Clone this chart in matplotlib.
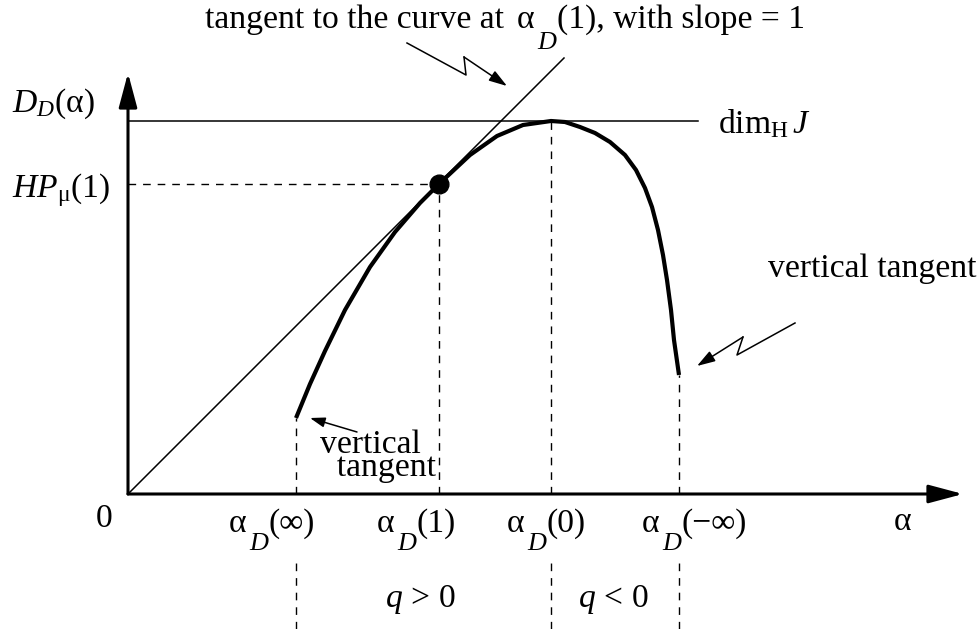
import matplotlib
matplotlib.use("Agg")
import matplotlib.pyplot as plt

plt.rcParams['font.family'] = ['Liberation Serif', 'DejaVu Serif']
plt.rcParams['mathtext.fontset'] = 'custom'
plt.rcParams['mathtext.rm'] = 'Liberation Serif'
plt.rcParams['mathtext.it'] = 'Liberation Serif:italic'
plt.rcParams['mathtext.bf'] = 'Liberation Serif:bold'
plt.rcParams['mathtext.fallback'] = 'stix'

# ---- data (schematic units) ----
alpha_inf, alpha_one, alpha_zero, alpha_minf = 168, 311, 423, 551
dim_H = 373          # maximum of the spectrum (dim_H J)
hp_mu = 310          # HP_mu(1) value at alpha_D(1)
curve_x = [168, 182, 197, 217, 242, 267, 292, 311, 342, 369, 395, 423,
           437, 452, 467, 482, 497, 508, 517, 524, 530, 535, 539, 543, 546, 551]
curve_y = [76, 110, 143, 184, 227, 262, 291, 310, 339, 358, 369, 373,
           372, 367, 361, 352, 339, 324, 306, 287, 264, 239, 214, 184, 154, 119]
curve_end_y_left = curve_y[0]
curve_end_y_right = curve_y[-1]
tangent_x = [0, 436]
tangent_y = [0, 436]
x_axis_end = 835
y_axis_end = 421
hline_end = 570
lower_dash_top, lower_dash_bot = -66, -135
tick_args = ['(∞)', '(1)', '(0)', '(−∞)']
tick_label_x = [101, 249, 379, 514]

FS = 24.2
SUB = 0.78
fig = plt.figure(figsize=(9.8, 6.29), dpi=100)
ax = fig.add_axes([0, 0, 1, 1])
ax.set_xlim(-128, 852)
ax.set_ylim(-135, 494)
ax.axis('off')
renderer = fig.canvas.get_renderer()


def rich(x, y, pieces):
    """Place text pieces one after another; 1 data unit == 1 pixel."""
    cx = x
    for s, size, style, dy, gap in pieces:
        cx += gap
        t = ax.text(cx, y + dy, s, fontsize=size, fontstyle=style,
                    ha='left', va='baseline')
        cx += t.get_window_extent(renderer=renderer).width


def alpha_d(x, y, arg, drop=18):
    rich(x, y, [('α', FS, 'normal', 0, 0),
                ('D', FS * SUB, 'italic', -drop, 3),
                (arg, FS, 'normal', 0, 0)])


# axes with arrows
ax.annotate('', xy=(x_axis_end, 0), xytext=(0, 0),
            arrowprops=dict(arrowstyle='-|>,head_length=21,head_width=5.6', lw=2.2,
                            color='k', shrinkA=0, shrinkB=0, mutation_scale=1))
ax.annotate('', xy=(0, y_axis_end), xytext=(0, 0),
            arrowprops=dict(arrowstyle='-|>,head_length=21,head_width=5.6', lw=2.2,
                            color='k', shrinkA=0, shrinkB=0, mutation_scale=1))

# horizontal line at dim_H J
ax.plot([0, hline_end], [dim_H, dim_H], color='k', lw=1.1)
# tangent line with slope 1
ax.plot(tangent_x, tangent_y, color='k', lw=1.1)

dash = dict(color='k', lw=1.0, dashes=(5.5, 5))
ax.plot([0, alpha_one], [hp_mu, hp_mu], **dash)
ax.plot([alpha_inf, alpha_inf], [0, curve_end_y_left], **dash)
ax.plot([alpha_one, alpha_one], [0, hp_mu], **dash)
ax.plot([alpha_zero, alpha_zero], [0, dim_H], **dash)
ax.plot([alpha_minf, alpha_minf], [0, curve_end_y_right], **dash)
for xv in (alpha_inf, alpha_zero, alpha_minf):
    ax.plot([xv, xv], [lower_dash_bot, lower_dash_top], **dash)

# the curve
ax.plot(curve_x, curve_y, color='k', lw=3.0, solid_capstyle='butt', solid_joinstyle='round')
ax.plot([alpha_one], [hp_mu], 'o', color='k', markersize=13.5)

# texts
rich(77, 466, [('tangent to the curve at', FS, 'normal', 0, 0)])
rich(389, 466, [('α', FS, 'normal', 0, 0),
                ('D', FS * SUB, 'italic', -21, 3),
                ('(1), with slope = 1', FS, 'normal', 0, 0)])
ax.text(590, 361, r'$\mathrm{dim}_{\mathrm{H}}\,J$', fontsize=FS, ha='left', va='baseline')
ax.text(-116, 382, r'$D_D(\mathrm{\alpha})$', fontsize=FS, ha='left', va='baseline')
ax.text(-116, 297, r'$HP_{\mathrm{\mu}}(1)$', fontsize=FS, ha='left', va='baseline')
ax.text(-24, -25, '0', fontsize=FS, ha='center', va='center')
ax.text(775, -28, 'α', fontsize=FS, ha='center', va='center')
for lx, arg in zip(tick_label_x, tick_args):
    alpha_d(lx, -38, arg)
ax.text(257, -113, r'$q\,>\,0$', fontsize=FS, ha='left', va='baseline')
ax.text(450, -113, r'$q\,<\,0$', fontsize=FS, ha='left', va='baseline')
ax.text(192, 18, 'vertical\n  tangent', fontsize=FS, ha='left', va='baseline',
        linespacing=0.66)
ax.text(640, 217, 'vertical tangent', fontsize=FS, ha='left', va='baseline')

# small arrow to left end
ax.annotate('', xy=(182, 76), xytext=(229, 62),
            arrowprops=dict(arrowstyle='-|>,head_length=9,head_width=3', lw=1.1,
                            color='k', shrinkA=0, shrinkB=0, mutation_scale=1))


def lightning(p0, p1, p2, tip):
    ax.plot([p0[0], p1[0], p2[0]], [p0[1], p1[1], p2[1]], color='k', lw=1.1)
    ax.annotate('', xy=tip, xytext=p2,
                arrowprops=dict(arrowstyle='-|>,head_length=11,head_width=3.5', lw=1.1,
                                color='k', shrinkA=0, shrinkB=0, mutation_scale=1))


lightning((279, 451), (338, 419), (336, 437), (379, 408))
lightning((667, 171), (609, 139), (615, 157), (569, 128))

fig.savefig('out.png', dpi=100)
